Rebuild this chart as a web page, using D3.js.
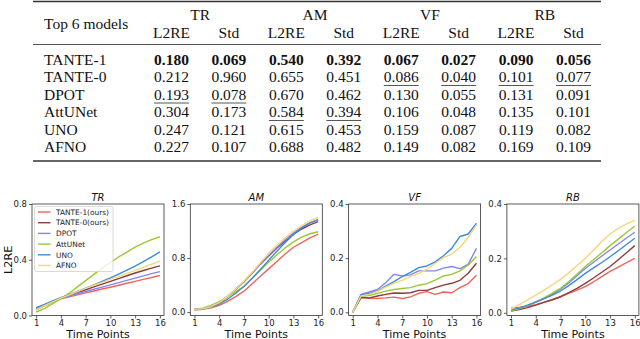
<!DOCTYPE html>
<html>
<head>
<meta charset="utf-8">
<script src="https://cdn.jsdelivr.net/npm/d3@7"></script>
<style>
  body { margin: 0; background: #fff; }
  svg { display: block; }
</style>
</head>
<body>
<div id="chart"></div>
<script>
"use strict";

// ---- table data ----
const models = ['TANTE-1', 'TANTE-0', 'DPOT', 'AttUNet', 'UNO', 'AFNO'];
const tasks = ['TR', 'AM', 'VF', 'RB'];
const metrics = ['L2RE', 'Std'];
// rows = models, columns = TR L2RE, TR Std, AM L2RE, AM Std, VF ..., RB ...
const tableValues = [
    ['0.180', '0.069', '0.540', '0.392', '0.067', '0.027', '0.090', '0.056'],
    ['0.212', '0.960', '0.655', '0.451', '0.086', '0.040', '0.101', '0.077'],
    ['0.193', '0.078', '0.670', '0.462', '0.130', '0.055', '0.131', '0.091'],
    ['0.304', '0.173', '0.584', '0.394', '0.106', '0.048', '0.135', '0.101'],
    ['0.247', '0.121', '0.615', '0.453', '0.159', '0.087', '0.119', '0.082'],
    ['0.227', '0.107', '0.688', '0.482', '0.149', '0.082', '0.169', '0.109']
];

// ---- line chart data (L2RE over 16 time points) ----
const timePoints = d3.range(1, 17);
const seriesNames = ['TANTE-1(ours)', 'TANTE-0(ours)', 'DPOT', 'AttUNet', 'UNO', 'AFNO'];
const seriesColors = ['#f0645a', '#8c3c3c', '#8585f0', '#9dc832', '#3c8cdc', '#f5d778'];

const trValues = [
    [0.050, 0.075, 0.098, 0.120, 0.134, 0.148, 0.162, 0.176, 0.190, 0.203, 0.217, 0.231, 0.245, 0.259, 0.273, 0.287],
    [0.040, 0.070, 0.098, 0.125, 0.145, 0.165, 0.185, 0.205, 0.225, 0.245, 0.265, 0.285, 0.305, 0.323, 0.340, 0.356],
    [0.045, 0.073, 0.100, 0.125, 0.140, 0.156, 0.172, 0.188, 0.204, 0.220, 0.236, 0.252, 0.268, 0.284, 0.300, 0.315],
    [0.025, 0.050, 0.085, 0.120, 0.160, 0.205, 0.250, 0.295, 0.340, 0.380, 0.420, 0.455, 0.490, 0.520, 0.545, 0.565],
    [0.057, 0.080, 0.105, 0.128, 0.150, 0.173, 0.196, 0.220, 0.245, 0.270, 0.297, 0.325, 0.355, 0.387, 0.420, 0.456],
    [0.040, 0.070, 0.098, 0.125, 0.148, 0.172, 0.195, 0.217, 0.238, 0.259, 0.281, 0.302, 0.324, 0.346, 0.368, 0.390]
];
const amValues = [
    [0.030, 0.040, 0.065, 0.100, 0.160, 0.230, 0.310, 0.420, 0.530, 0.640, 0.750, 0.860, 0.960, 1.030, 1.100, 1.155],
    [0.040, 0.050, 0.080, 0.135, 0.225, 0.335, 0.450, 0.580, 0.710, 0.830, 0.950, 1.050, 1.150, 1.230, 1.290, 1.340],
    [0.040, 0.050, 0.080, 0.140, 0.230, 0.340, 0.450, 0.580, 0.710, 0.840, 0.960, 1.070, 1.170, 1.250, 1.320, 1.370],
    [0.040, 0.060, 0.100, 0.155, 0.230, 0.300, 0.380, 0.500, 0.620, 0.740, 0.850, 0.950, 1.040, 1.110, 1.160, 1.190],
    [0.040, 0.050, 0.075, 0.120, 0.190, 0.280, 0.380, 0.500, 0.630, 0.770, 0.900, 1.030, 1.150, 1.250, 1.320, 1.370],
    [0.040, 0.050, 0.080, 0.140, 0.230, 0.340, 0.460, 0.590, 0.730, 0.870, 0.990, 1.100, 1.200, 1.280, 1.350, 1.400]
];
const vfValues = [
    [0.000, 0.053, 0.052, 0.051, 0.053, 0.056, 0.051, 0.057, 0.070, 0.076, 0.066, 0.075, 0.072, 0.091, 0.106, 0.137],
    [0.000, 0.056, 0.053, 0.060, 0.066, 0.071, 0.070, 0.072, 0.081, 0.081, 0.091, 0.100, 0.107, 0.118, 0.144, 0.181],
    [0.000, 0.066, 0.075, 0.084, 0.109, 0.140, 0.134, 0.138, 0.153, 0.153, 0.153, 0.163, 0.169, 0.161, 0.178, 0.236],
    [0.000, 0.060, 0.062, 0.070, 0.078, 0.084, 0.088, 0.091, 0.100, 0.106, 0.119, 0.134, 0.140, 0.153, 0.175, 0.206],
    [0.000, 0.063, 0.070, 0.078, 0.097, 0.113, 0.132, 0.147, 0.165, 0.171, 0.186, 0.209, 0.236, 0.280, 0.289, 0.329],
    [0.000, 0.060, 0.066, 0.077, 0.093, 0.107, 0.118, 0.132, 0.144, 0.159, 0.181, 0.202, 0.215, 0.240, 0.277, 0.323]
];
const rbValues = [
    [0.017, 0.020, 0.024, 0.030, 0.039, 0.048, 0.059, 0.071, 0.083, 0.096, 0.114, 0.133, 0.152, 0.168, 0.184, 0.200],
    [0.006, 0.012, 0.019, 0.028, 0.038, 0.048, 0.059, 0.074, 0.090, 0.108, 0.128, 0.149, 0.170, 0.195, 0.221, 0.247],
    [0.008, 0.016, 0.026, 0.038, 0.052, 0.068, 0.087, 0.110, 0.136, 0.163, 0.186, 0.209, 0.231, 0.253, 0.275, 0.296],
    [0.006, 0.015, 0.026, 0.040, 0.055, 0.072, 0.090, 0.115, 0.142, 0.170, 0.195, 0.221, 0.247, 0.271, 0.295, 0.319],
    [0.010, 0.018, 0.028, 0.040, 0.052, 0.065, 0.080, 0.100, 0.122, 0.145, 0.165, 0.185, 0.206, 0.228, 0.251, 0.274],
    [0.013, 0.030, 0.047, 0.065, 0.083, 0.103, 0.123, 0.147, 0.173, 0.200, 0.230, 0.262, 0.290, 0.310, 0.327, 0.340]
];
const panelValues = [trValues, amValues, vfValues, rbValues];
const yTicks = [[0, 0.4, 0.8], [0, 0.8, 1.6], [0, 0.2, 0.4], [0, 0.2, 0.4]];
const yMins = [0, -0.05, -0.012, -0.01];
const xTicks = [1, 4, 7, 10, 13, 16];

const W = 640, H = 339;
const svg = d3.select('#chart').append('svg').attr('width', W).attr('height', H);

// ================= TABLE =================
const serif = '"Liberation Serif", "Times New Roman", serif';
const tbl = svg.append('g').attr('font-family', serif).attr('font-size', '15.5px').attr('fill', '#111');

const colX = d3.scaleLinear().domain([0, 7]).range([171.5, 573.5]);
const rowY = d3.scaleLinear().domain([0, 5]).range([64.5, 152]);
const ruleL = 33, ruleR = 601;

tbl.append('line').attr('x1', ruleL).attr('x2', ruleR).attr('y1', 1.5).attr('y2', 1.5)
   .attr('stroke', '#333').attr('stroke-width', 1.6);
tbl.append('line').attr('x1', ruleL).attr('x2', ruleR).attr('y1', 44.5).attr('y2', 44.5)
   .attr('stroke', '#555').attr('stroke-width', 1);
tbl.append('line').attr('x1', ruleL).attr('x2', ruleR).attr('y1', 161).attr('y2', 161)
   .attr('stroke', '#333').attr('stroke-width', 1.6);

tbl.append('text').attr('x', 44).attr('y', 28.5).text('Top 6 models');

tbl.selectAll('.task').data(tasks).enter().append('text')
   .attr('class', 'task')
   .attr('x', (d, i) => (colX(2 * i) + colX(2 * i + 1)) / 2)
   .attr('y', 20).attr('text-anchor', 'middle').text(d => d);

tbl.selectAll('.metric').data(d3.range(8)).enter().append('text')
   .attr('class', 'metric')
   .attr('x', d => colX(d)).attr('y', 37.5).attr('text-anchor', 'middle')
   .text(d => metrics[d % 2]);

tbl.selectAll('.model').data(models).enter().append('text')
   .attr('class', 'model')
   .attr('x', 44).attr('y', (d, i) => rowY(i)).text(d => d);

// best = bold, second best = underline (per column)
const rankOf = d3.range(8).map(c => {
    const col = tableValues.map(r => +r[c]);
    const sorted = col.slice().sort(d3.ascending);
    return col.map(v => sorted.indexOf(v));
});

tableValues.forEach((row, r) => {
    row.forEach((v, c) => {
        const rank = rankOf[c][r];
        const t = tbl.append('text')
           .attr('x', colX(c)).attr('y', rowY(r)).attr('text-anchor', 'middle')
           .attr('font-weight', rank === 0 ? 'bold' : 'normal')
           .text(v);
        if (rank === 1) {
            const w = t.node().getComputedTextLength();
            tbl.append('line')
               .attr('x1', colX(c) - w / 2).attr('x2', colX(c) + w / 2)
               .attr('y1', rowY(r) + 3.5).attr('y2', rowY(r) + 3.5)
               .attr('stroke', '#444').attr('stroke-width', 0.9);
        }
    });
});

// ================= LINE PANELS =================
const sans = '"DejaVu Sans", Verdana, sans-serif';
const pTop = 204, pBottom = 315.5, pW = 132;
const panelLeft = i => 32 + i * 158.3;

tasks.forEach((task, pi) => {
    const left = panelLeft(pi);
    const g = svg.append('g').attr('font-family', sans);

    const x = d3.scaleLinear().domain([0.5, 16.5]).range([left, left + pW]);
    const yMax = yTicks[pi][yTicks[pi].length - 1];
    const y = d3.scaleLinear().domain([yMins[pi], yMax]).range([pBottom, pTop]);

    const line = d3.line().x((d, i) => x(timePoints[i])).y(d => y(d));

    g.selectAll('.series').data(panelValues[pi]).enter().append('path')
     .attr('class', 'series')
     .attr('d', line)
     .attr('fill', 'none')
     .attr('stroke', (d, i) => seriesColors[i])
     .attr('stroke-width', 1.4)
     .attr('stroke-linejoin', 'round');

    // frame
    g.append('rect').attr('x', left).attr('y', pTop).attr('width', pW).attr('height', pBottom - pTop)
     .attr('fill', 'none').attr('stroke', '#333').attr('stroke-width', 0.8);

    const xAxis = d3.axisBottom(x).tickValues(xTicks).tickSize(3).tickPadding(1.5).tickFormat(d3.format('d'));
    const yAxis = d3.axisLeft(y).tickValues(yTicks[pi]).tickSize(3).tickPadding(2).tickFormat(d3.format('.1f'));

    const gx = g.append('g').attr('transform', `translate(0,${pBottom})`).call(xAxis);
    const gy = g.append('g').attr('transform', `translate(${left},0)`).call(yAxis);
    [gx, gy].forEach(a => {
        a.select('.domain').remove();
        a.selectAll('line').attr('stroke', '#333').attr('stroke-width', 0.8);
        a.selectAll('text').attr('font-family', sans).attr('font-size', '8.5px').attr('fill', '#222');
    });

    g.append('text')
     .attr('x', left + pW / 2).attr('y', 201)
     .attr('text-anchor', 'middle').attr('font-size', '10px').attr('font-style', 'italic')
     .attr('fill', '#111').text(task);

    g.append('text')
     .attr('x', left + pW / 2).attr('y', 337.5)
     .attr('text-anchor', 'middle').attr('font-size', '11px')
     .attr('fill', '#111').text('Time Points');

    if (pi === 0) {
        g.append('text')
         .attr('transform', `translate(11.5,${(pTop + pBottom) / 2}) rotate(-90)`)
         .attr('text-anchor', 'middle').attr('font-size', '11.3px')
         .attr('fill', '#111').text('L2RE');

        // legend
        const lg = g.append('g');
        lg.append('rect').attr('x', 34.5).attr('y', 206.5).attr('width', 78.5).attr('height', 65)
          .attr('rx', 2).attr('fill', '#fff').attr('fill-opacity', 0.8)
          .attr('stroke', '#d0d0d0').attr('stroke-width', 0.8);
        const ly = d3.scaleLinear().domain([0, 5]).range([212, 265.5]);
        const items = lg.selectAll('.item').data(seriesNames).enter().append('g').attr('class', 'item');
        items.append('line')
             .attr('x1', 38).attr('x2', 50.5)
             .attr('y1', (d, i) => ly(i)).attr('y2', (d, i) => ly(i))
             .attr('stroke', (d, i) => seriesColors[i]).attr('stroke-width', 1.4);
        items.append('text')
             .attr('x', 56).attr('y', (d, i) => ly(i) + 2.7)
             .attr('font-size', '7.4px').attr('fill', '#222').text(d => d);
    }
});
</script>
</body>
</html>
